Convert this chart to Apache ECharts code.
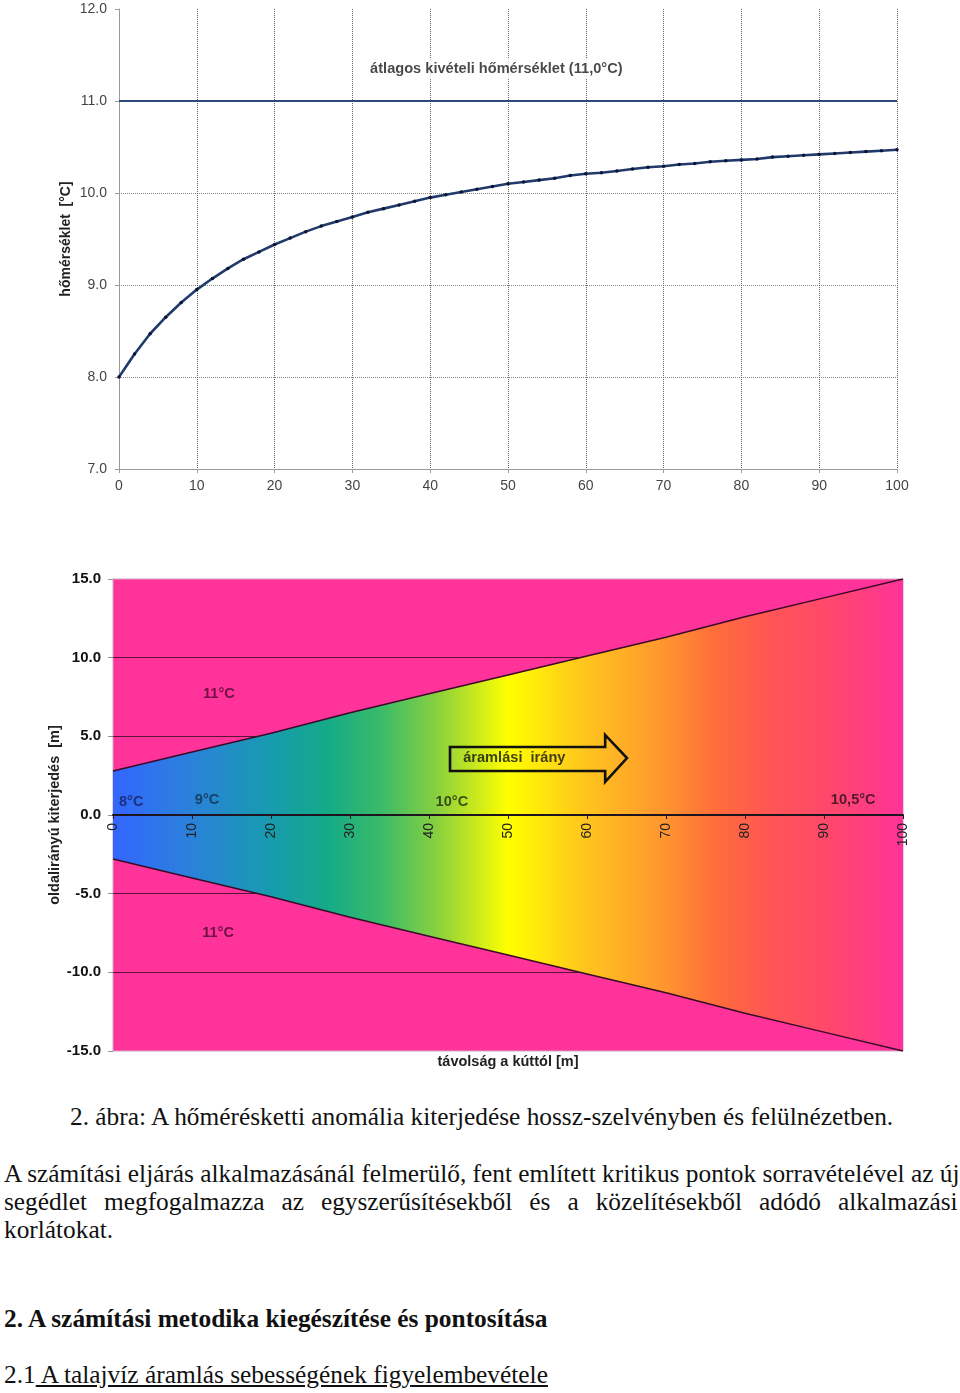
<!DOCTYPE html>
<html><head><meta charset="utf-8">
<script src="https://cdn.jsdelivr.net/npm/echarts@6/dist/echarts.min.js"></script>
<style>
html,body{margin:0;padding:0;background:#fff;}
#page{position:relative;width:960px;height:1393px;overflow:hidden;background:#fff;}
#chart{position:absolute;left:0;top:0;width:960px;height:1090px;}
.ln{position:absolute;white-space:nowrap;font-family:"Liberation Serif","Times New Roman",serif;font-size:25px;line-height:25px;color:#111;transform-origin:0 0;}
</style></head><body>
<div id="page">
<div id="chart"></div>
<div class="ln" id="cap" style="left:70px;top:1104px" data-w="823">2. ábra: A hőmérésketti anomália kiterjedése hossz-szelvényben és felülnézetben.</div>
<div class="ln just" style="left:4px;top:1161px" data-w="954">A számítási eljárás alkalmazásánál felmerülő, fent említett kritikus pontok sorravételével az új</div>
<div class="ln just" style="left:4px;top:1189px" data-w="954">segédlet megfogalmazza az egyszerűsítésekből és a közelítésekből adódó alkalmazási</div>
<div class="ln" style="left:4px;top:1217px">korlátokat.</div>
<div class="ln fit" style="left:4px;top:1306px;font-weight:bold" data-w="543">2. A számítási metodika kiegészítése és pontosítása</div>
<div class="ln fit" style="left:4px;top:1362px" data-w="544">2.1<span style="text-decoration:underline"> A talajvíz áramlás sebességének figyelembevétele</span></div>
</div>
<script>
// ---- data: longitudinal section (top chart) ----
const distances = [0,2,4,6,8,10,12,14,16,18,20,22,24,26,28,30,32,34,36,38,40,42,44,46,48,50,52,54,56,58,60,62,64,66,68,70,72,74,76,78,80,82,84,86,88,90,92,94,96,98,100];
const tempProfile = [8.00,8.25,8.47,8.65,8.81,8.95,9.07,9.18,9.28,9.36,9.44,9.51,9.58,9.64,9.69,9.74,9.79,9.83,9.87,9.91,9.95,9.98,10.01,10.04,10.07,10.10,10.12,10.14,10.16,10.19,10.21,10.22,10.24,10.26,10.28,10.29,10.31,10.32,10.34,10.35,10.36,10.37,10.39,10.40,10.41,10.42,10.43,10.44,10.45,10.46,10.47];
const meanTempX = [0,100];
const meanTemp = 11.0;
const meanLabel = 'átlagos kivételi hőmérséklet (11,0°C)';

// ---- data: plan view (bottom chart) ----
const wedgeX = [0,10,20,30,40,50,60,70,80,90,100];
const wedgeUpper = [2.8,4.0,5.2,6.5,7.7,8.9,10.1,11.3,12.6,13.8,15.0];
const wedgeLower = [-2.8,-4.0,-5.2,-6.5,-7.7,-8.9,-10.1,-11.3,-12.6,-13.8,-15.0];
const zoneLabels = ['11°C','11°C','8°C','9°C','10°C','10,5°C'];
const zoneLabelX = [13.4,13.3,2.3,11.9,42.9,93.7];
const zoneLabelY = [7.7,-7.5,0.85,0.95,0.85,0.95];
const flowLabel = 'áramlási  irány';
const xName = 'távolság a kúttól [m]';

// annotation geometry (arrow, in data units)
const arrowShape = [[42.66,4.32],[62.3,4.32],[62.3,5.09],[65.06,3.62],[62.3,2.10],[62.3,2.80],[42.66,2.80]];
const flowLabelPos = [50.8,3.62];
const meanLabelPos = [48.5,11.35];
const xNamePos = [50.0,-15.7];

const zoneColors = ['#4a0a2c','#4a0a2c','#1a2060','#14304c','#1c2a10','#2a0c1c'];

const chart = echarts.init(document.getElementById('chart'), null, {renderer:'canvas'});
const F = 'Liberation Sans, Arial, sans-serif';
const grad = new echarts.graphic.LinearGradient(0,0,1,0,[
  {offset:0,color:'#3366FF'},{offset:0.1,color:'#2A82DA'},{offset:0.2,color:'#179BAE'},
  {offset:0.27,color:'#14AA88'},{offset:0.34,color:'#3ABB68'},{offset:0.41,color:'#88D03E'},
  {offset:0.5,color:'#FFFF00'},{offset:0.6,color:'#FFC41E'},{offset:0.7,color:'#FF9430'},
  {offset:0.76,color:'#FF6E3A'},{offset:0.83,color:'#FF5654'},{offset:0.92,color:'#FF4570'},
  {offset:1,color:'#FF3399'}]);

const hidden = {color:'rgba(0,0,0,0)'};
const planGrid = {left:113,top:579,width:790,height:472};

const option = {
  animation:false,
  textStyle:{fontFamily:F},
  grid:[
    {left:119,top:9,width:778,height:460},
    Object.assign({show:true,backgroundColor:'#FF3399',borderColor:'#cfa6c0',borderWidth:1}, planGrid)
  ],
  xAxis:[
    {gridIndex:0,type:'value',min:0,max:100,interval:10,
     axisLine:{show:true,onZero:false,lineStyle:{color:'#9a9a9a'}},
     axisTick:{show:true,length:4,lineStyle:{color:'#9a9a9a'}},
     axisLabel:{color:'#444',fontSize:14,margin:10,fontFamily:F},
     splitLine:{show:true,showMinLine:false,lineStyle:{color:'#666',type:'dotted',width:1}}},
    {gridIndex:1,type:'value',min:0,max:100,interval:10,z:6,position:'bottom',
     offset:-planGrid.height/2,
     axisLine:{show:true,onZero:false,lineStyle:{color:'#1d1420',width:2}},
     axisTick:{show:true,length:4,lineStyle:{color:'#1d1420'}},
     axisLabel:{rotate:90,color:'#222',fontSize:14,margin:8,fontFamily:F},
     splitLine:{show:false}}
  ],
  yAxis:[
    {gridIndex:0,type:'value',min:7,max:12,interval:1,
     axisLine:{show:true,lineStyle:{color:'#9a9a9a'}},
     axisTick:{show:true,length:4,lineStyle:{color:'#9a9a9a'}},
     axisLabel:{formatter:v=>v.toFixed(1),color:'#444',fontSize:14,margin:12,fontFamily:F},
     splitLine:{show:true,showMinLine:false,showMaxLine:false,lineStyle:{color:'#888',type:'dotted',width:1}},
     name:'hőmérséklet  [°C]',nameLocation:'middle',nameGap:46,nameRotate:90,nameMoveOverlap:false,
     nameTextStyle:{fontWeight:'bold',fontSize:14,color:'#222',fontFamily:F}},
    {gridIndex:1,type:'value',min:-15,max:15,interval:5,
     axisLine:{show:false},
     axisTick:{show:true,length:5,lineStyle:{color:'#9a8a90'}},
     axisLabel:{formatter:v=>v.toFixed(1),fontWeight:'bold',fontSize:15,color:'#111',margin:12,fontFamily:F},
     splitLine:{show:true,showMinLine:false,showMaxLine:false,lineStyle:{color:'#5a1236',width:1}},
     name:'oldalirányú kiterjedés  [m]',nameLocation:'middle',nameGap:51,nameRotate:90,nameMoveOverlap:false,
     nameTextStyle:{fontWeight:'bold',fontSize:14.5,color:'#222',fontFamily:F}}
  ],
  series:[
    {type:'line',xAxisIndex:0,yAxisIndex:0,z:3,
     data:meanTempX.map(x=>[x,meanTemp]),symbol:'none',
     lineStyle:{color:'#2d4b78',width:2}},
    {type:'line',xAxisIndex:0,yAxisIndex:0,z:4,
     data:distances.map((d,i)=>[d,tempProfile[i]]),
     symbol:'circle',symbolSize:3.5,showSymbol:true,
     itemStyle:{color:'#0b1533'},lineStyle:{color:'#203a6c',width:2.6}},
    {type:'scatter',xAxisIndex:0,yAxisIndex:0,z:5,symbolSize:1,itemStyle:hidden,
     data:[{name:meanLabel,value:meanLabelPos}],
     label:{show:true,position:'inside',formatter:'{b}',fontWeight:'bold',fontSize:14.6,color:'#1a1a1a',
            backgroundColor:'#ffffff',padding:[3,4],fontFamily:F}},
    {type:'line',xAxisIndex:1,yAxisIndex:1,z:2,
     data:wedgeX.map((x,i)=>[x,wedgeUpper[i]]),symbol:'none',
     lineStyle:{color:'#3b0a2a',width:1.5},areaStyle:{color:grad,opacity:1}},
    {type:'line',xAxisIndex:1,yAxisIndex:1,z:2,
     data:wedgeX.map((x,i)=>[x,wedgeLower[i]]),symbol:'none',
     lineStyle:{color:'#3b0a2a',width:1.5},areaStyle:{color:grad,opacity:1}},
    {type:'custom',xAxisIndex:1,yAxisIndex:1,z:7,silent:true,
     data:[[0,0]],
     renderItem:(params,api)=>({type:'polygon',
        shape:{points:arrowShape.map(p=>api.coord(p))},
        style:{fill:'none',stroke:'#111',lineWidth:2.6,lineJoin:'miter'}})},
    {type:'scatter',xAxisIndex:1,yAxisIndex:1,z:8,symbolSize:1,itemStyle:hidden,
     data:[{name:flowLabel,value:flowLabelPos,label:{color:'#111'}}].concat(
       zoneLabels.map((t,i)=>({name:t,value:[zoneLabelX[i],zoneLabelY[i]],label:{color:zoneColors[i]}}))),
     label:{show:true,position:'inside',formatter:'{b}',fontWeight:'bold',fontSize:14.6,fontFamily:F}}
  ]
};
chart.setOption(option);

// x-axis title of the plan view, placed below the plot via the axis scale
const np = chart.convertToPixel({xAxisIndex:1,yAxisIndex:1}, xNamePos);
chart.setOption({graphic:[{type:'text',x:np[0],y:np[1],silent:true,
  style:{text:xName,fill:'#222',font:'bold 14.5px '+F,align:'center',verticalAlign:'middle'}}]});

// ---- text fitting (horizontal condensing like the source scan) ----
const lines = Array.from(document.querySelectorAll('.ln'));
const cap = document.getElementById('cap');
const s = (+cap.dataset.w) / cap.offsetWidth;
lines.forEach(el=>{
  const nat = el.offsetWidth;
  if (el.classList.contains('just')) {
    const target = (+el.dataset.w)/s;
    const spaces = (el.textContent.match(/ /g)||[]).length;
    if (target > nat && spaces>0) el.style.wordSpacing = ((target-nat)/spaces)+'px';
    el.style.transform = 'scaleX('+s+')';
  } else if (el.dataset.w) {
    el.style.transform = 'scaleX('+((+el.dataset.w)/nat)+')';
  } else {
    el.style.transform = 'scaleX('+s+')';
  }
});
</script>
</body></html>
